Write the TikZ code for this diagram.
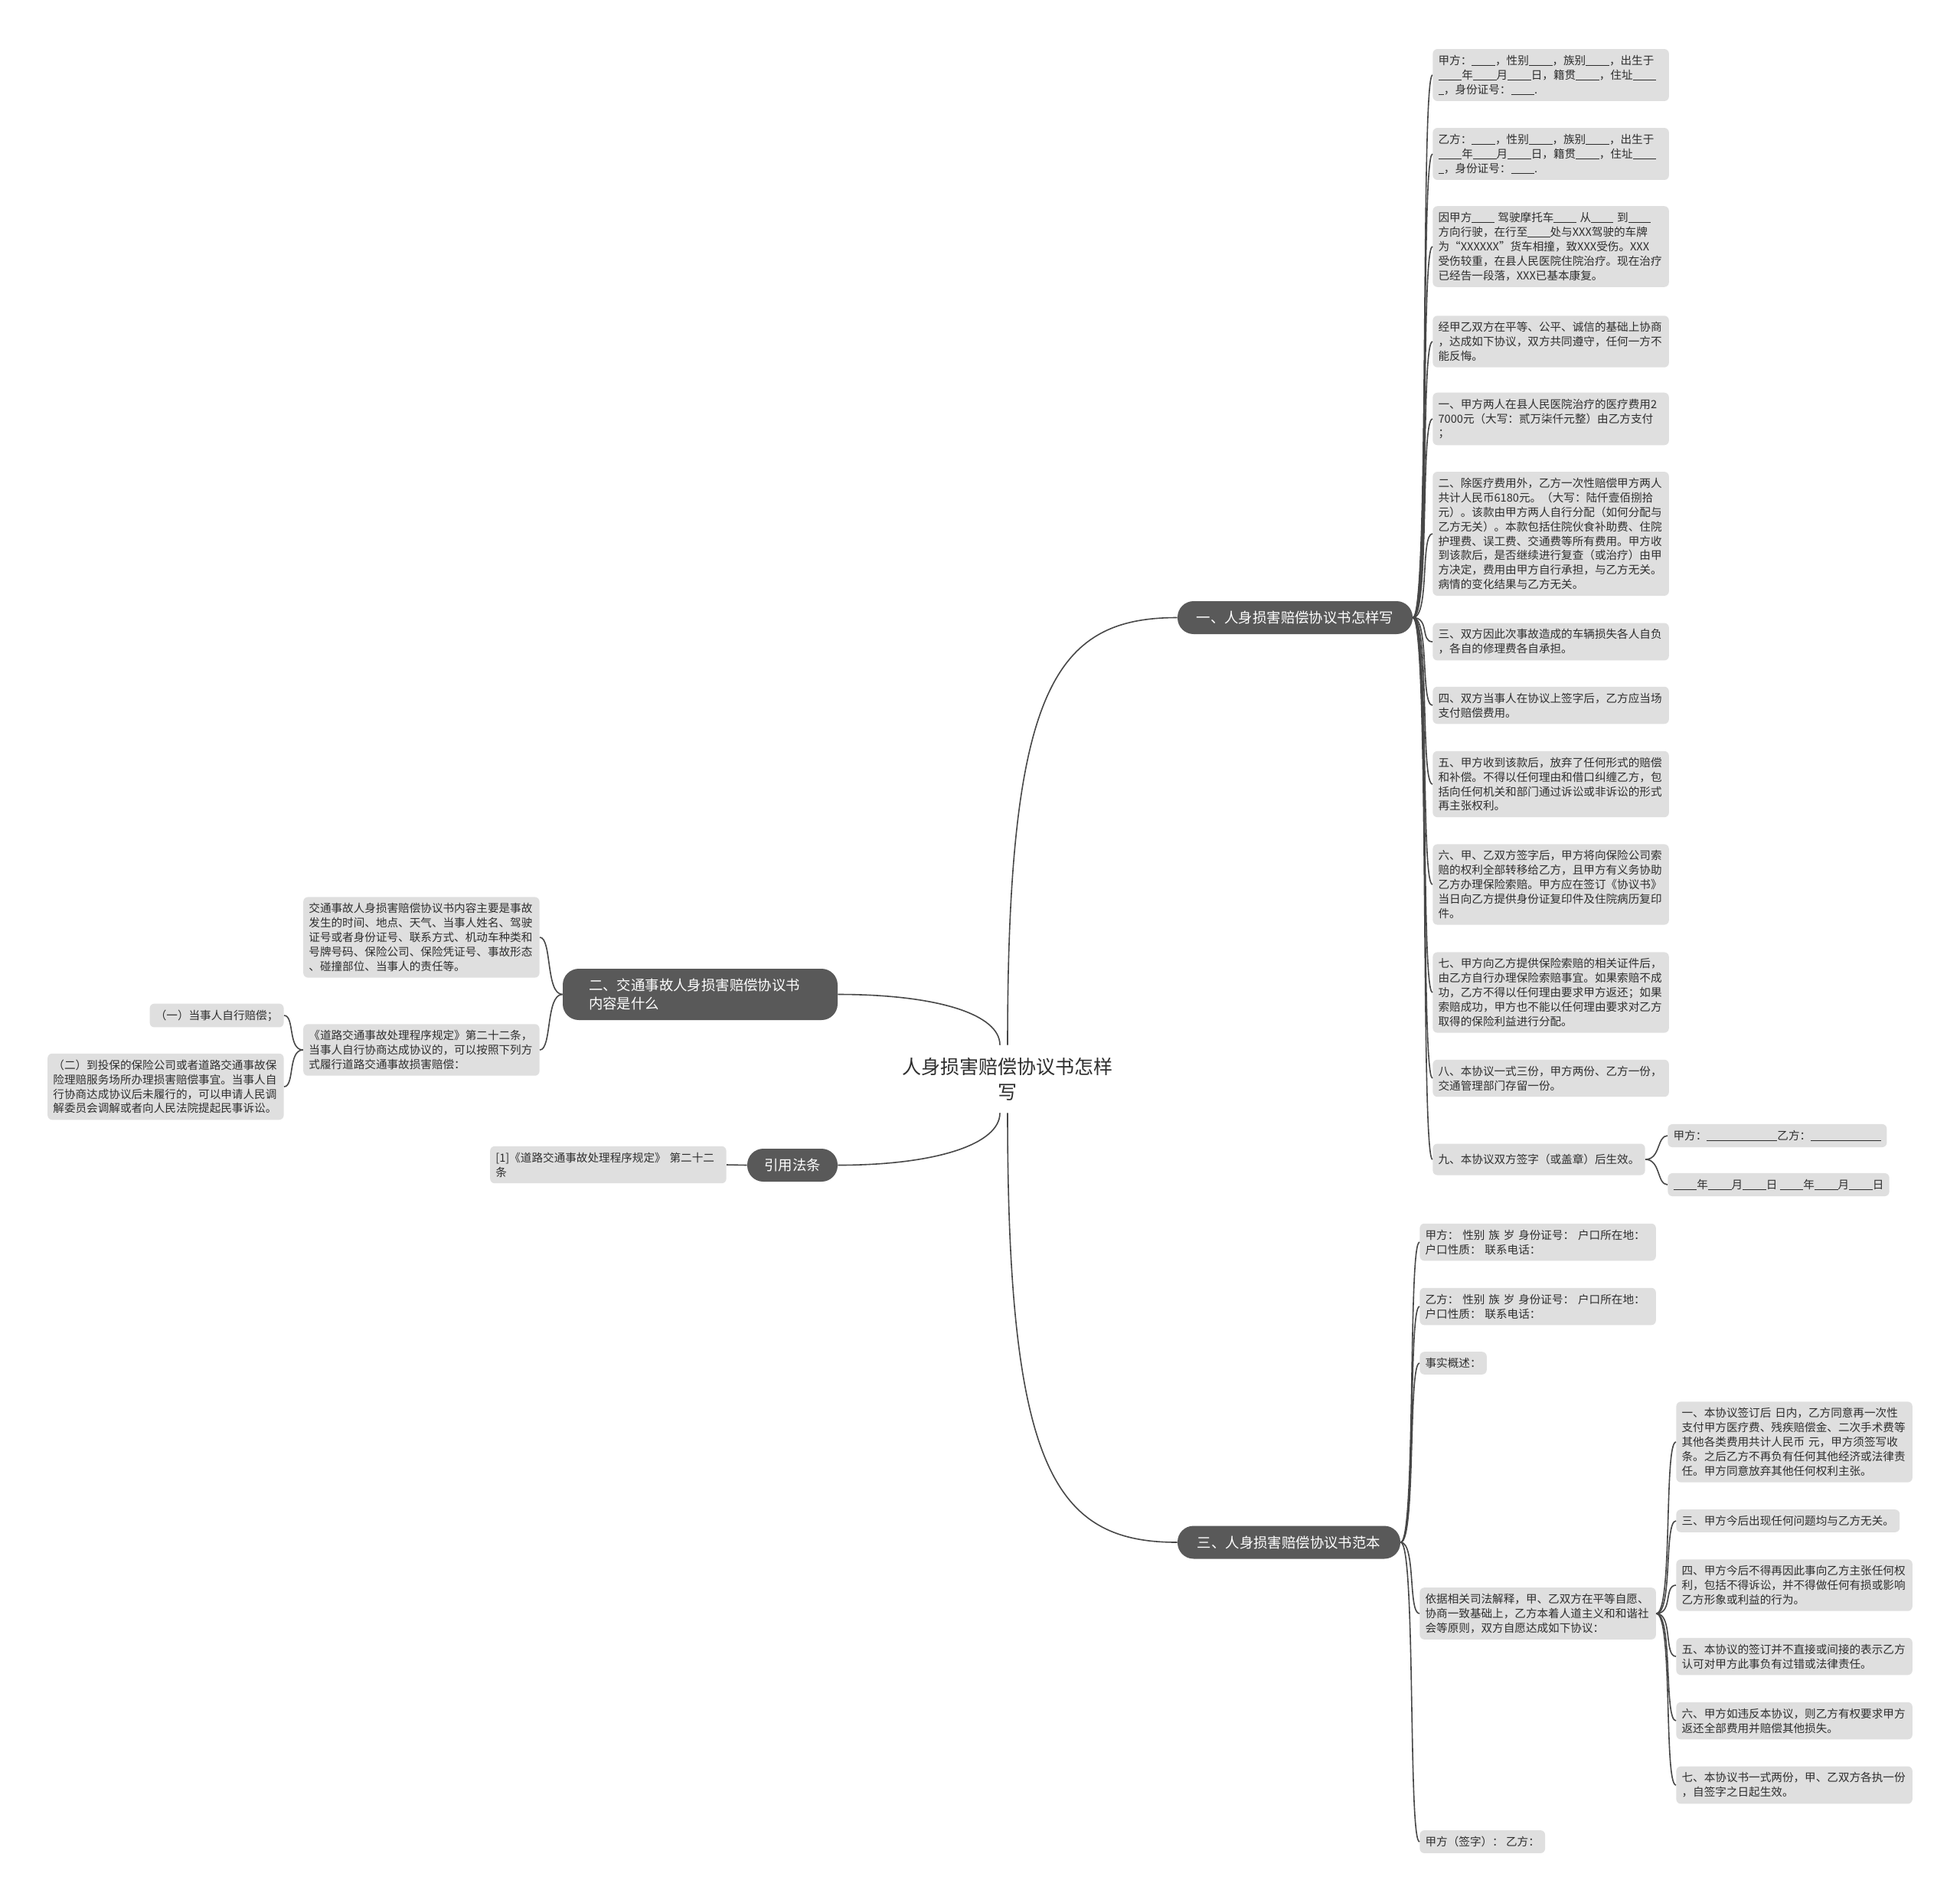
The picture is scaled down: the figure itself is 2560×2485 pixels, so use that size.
\documentclass[tikz,border=0pt]{standalone}
\usepackage{xcolor}
\usepackage{fontspec}
\setmainfont{Noto Sans CJK SC}
\usepackage{tikz}

\definecolor{leafgray}{HTML}{DFDFDF}
\definecolor{branchgray}{HTML}{595959}
\definecolor{linkgray}{HTML}{474747}
\definecolor{inkgray}{HTML}{2E2E2E}
\newcommand{\fillin}[1]{\rule[-0.12em]{#1}{0.06em}}

\begin{document}
\begin{tikzpicture}[x=0.5pt, y=-0.5pt,
  every node/.style={inner sep=0pt},
  leaf/.style={fill=leafgray, rounded corners=3pt, inner xsep=3.6pt,
    inner ysep=4pt, align=left, text=inkgray,
    font=\fontsize{7.3}{9.45}\selectfont},
  wide/.style={text width=147pt},
  branch/.style={fill=branchgray, rounded corners=10.5pt, text=white,
    font=\fontsize{9.2}{12.2}\selectfont, minimum height=21.5pt},
  link/.style={draw=linkgray, line width=0.8pt}]
  \fill[white] (0,0) rectangle (2560,2485);
  \useasboundingbox (0,0) rectangle (2560,2485);

  % Root
  \node[align=center, text=inkgray, font=\fontsize{12.5}{16.3}\selectfont,
        minimum height=44pt] (root) at (1316,1409) {人身损害赔偿协议书怎样\\写};

  % Main branches
  \node[branch, minimum width=153.5pt] (b1) at (1691.5,806.5) {一、人身损害赔偿协议书怎样写};
  \node[branch, minimum width=145.5pt] (b3) at (1683.5,2014) {三、人身损害赔偿协议书范本};
  \node[branch, text width=145.5pt, align=left, inner xsep=17pt,
        minimum height=33.5pt] (b2) at (914.5,1298.5) {二、交通事故人身损害赔偿协议书\\内容是什么};
  \node[branch, minimum width=59pt] (b4) at (1035,1521.5) {引用法条};

  % Branch one: the agreement text
  \node[leaf, wide, anchor=west] (r1) at (1871,98) {甲方：\fillin{2.1em}，性别\fillin{2.1em}，族别\fillin{2.1em}，出生于\\
    \fillin{2.1em}年\fillin{2.1em}月\fillin{2.1em}日，籍贯\fillin{2.1em}，住址\fillin{2.1em}\\
    \fillin{0.5em}，身份证号：\fillin{2.1em}.};
  \node[leaf, wide, anchor=west] (r2) at (1871,201) {乙方：\fillin{2.1em}，性别\fillin{2.1em}，族别\fillin{2.1em}，出生于\\
    \fillin{2.1em}年\fillin{2.1em}月\fillin{2.1em}日，籍贯\fillin{2.1em}，住址\fillin{2.1em}\\
    \fillin{0.5em}，身份证号：\fillin{2.1em}.};
  \node[leaf, wide, anchor=west] (r3) at (1871,322) {因甲方\fillin{2em} 驾驶摩托车\fillin{2em} 从\fillin{2em} 到\fillin{2em}\\
    方向行驶，在行至\fillin{2em}处与XXX驾驶的车牌\\
    为“XXXXXX”货车相撞，致XXX受伤。XXX\\
    受伤较重，在县人民医院住院治疗。现在治疗\\
    已经告一段落，XXX已基本康复。};
  \node[leaf, wide, anchor=west] (r4) at (1871,446) {经甲乙双方在平等、公平、诚信的基础上协商\\
    ，达成如下协议，双方共同遵守，任何一方不\\
    能反悔。};
  \node[leaf, wide, anchor=west] (r5) at (1871,547) {一、甲方两人在县人民医院治疗的医疗费用2\\
    7000元（大写：贰万柒仟元整）由乙方支付\\
    ；};
  \node[leaf, wide, anchor=west] (r6) at (1871,697) {二、除医疗费用外，乙方一次性赔偿甲方两人\\
    共计人民币6180元。（大写：陆仟壹佰捌拾\\
    元）。该款由甲方两人自行分配（如何分配与\\
    乙方无关）。本款包括住院伙食补助费、住院\\
    护理费、误工费、交通费等所有费用。甲方收\\
    到该款后，是否继续进行复查（或治疗）由甲\\
    方决定，费用由甲方自行承担，与乙方无关。\\
    病情的变化结果与乙方无关。};
  \node[leaf, wide, anchor=west] (r7) at (1871,838) {三、双方因此次事故造成的车辆损失各人自负\\
    ，各自的修理费各自承担。};
  \node[leaf, wide, anchor=west] (r8) at (1871,921) {四、双方当事人在协议上签字后，乙方应当场\\
    支付赔偿费用。};
  \node[leaf, wide, anchor=west] (r9) at (1871,1024) {五、甲方收到该款后，放弃了任何形式的赔偿\\
    和补偿。不得以任何理由和借口纠缠乙方，包\\
    括向任何机关和部门通过诉讼或非诉讼的形式\\
    再主张权利。};
  \node[leaf, wide, anchor=west] (r10) at (1871,1155) {六、甲、乙双方签字后，甲方将向保险公司索\\
    赔的权利全部转移给乙方，且甲方有义务协助\\
    乙方办理保险索赔。甲方应在签订《协议书》\\
    当日向乙方提供身份证复印件及住院病历复印\\
    件。};
  \node[leaf, wide, anchor=west] (r11) at (1871,1296) {七、甲方向乙方提供保险索赔的相关证件后，\\
    由乙方自行办理保险索赔事宜。如果索赔不成\\
    功，乙方不得以任何理由要求甲方返还；如果\\
    索赔成功，甲方也不能以任何理由要求对乙方\\
    取得的保险利益进行分配。};
  \node[leaf, wide, anchor=west] (r12) at (1871,1408) {八、本协议一式三份，甲方两份、乙方一份，\\
    交通管理部门存留一份。};
  \node[leaf, anchor=west, minimum height=20.5pt] (r13) at (1871,1514) {九、本协议双方签字（或盖章）后生效。};
  \node[leaf, anchor=west] (q1) at (2178,1483) {甲方：\fillin{6.3em}乙方：\fillin{6.3em}};
  \node[leaf, anchor=west] (q2) at (2178,1547) {\fillin{2.1em}年\fillin{2.1em}月\fillin{2.1em}日\ \fillin{2.1em}年\fillin{2.1em}月\fillin{2.1em}日};

  % Branch three: sample agreement
  \node[leaf, wide, anchor=west] (s1) at (1854,1622) {甲方：\ 性别 族 岁 身份证号：\ 户口所在地：\\
    户口性质：\ 联系电话：};
  \node[leaf, wide, anchor=west] (s2) at (1854,1706) {乙方：\ 性别 族 岁 身份证号：\ 户口所在地：\\
    户口性质：\ 联系电话：};
  \node[leaf, anchor=west] (s3) at (1854,1780) {事实概述：};
  \node[leaf, wide, anchor=west] (s4) at (1854,2107) {依据相关司法解释，甲、乙双方在平等自愿、\\
    协商一致基础上，乙方本着人道主义和和谐社\\
    会等原则，双方自愿达成如下协议：};
  \node[leaf, anchor=west] (s5) at (1854,2405) {甲方（签字）：\ 乙方：};
  \node[leaf, wide, anchor=west] (t1) at (2189,1883) {一、本协议签订后 日内，乙方同意再一次性\\
    支付甲方医疗费、残疾赔偿金、二次手术费等\\
    其他各类费用共计人民币 元，甲方须签写收\\
    条。之后乙方不再负有任何其他经济或法律责\\
    任。甲方同意放弃其他任何权利主张。};
  \node[leaf, anchor=west] (t2) at (2189,1986) {三、甲方今后出现任何问题均与乙方无关。};
  \node[leaf, wide, anchor=west] (t3) at (2189,2070) {四、甲方今后不得再因此事向乙方主张任何权\\
    利，包括不得诉讼，并不得做任何有损或影响\\
    乙方形象或利益的行为。};
  \node[leaf, wide, anchor=west] (t4) at (2189,2163) {五、本协议的签订并不直接或间接的表示乙方\\
    认可对甲方此事负有过错或法律责任。};
  \node[leaf, wide, anchor=west] (t5) at (2189,2247) {六、甲方如违反本协议，则乙方有权要求甲方\\
    返还全部费用并赔偿其他损失。};
  \node[leaf, wide, anchor=west] (t6) at (2189,2331) {七、本协议书一式两份，甲、乙双方各执一份\\
    ，自签字之日起生效。};

  % Branch two and the cited rule
  \node[leaf, wide, anchor=east] (l1) at (705,1224) {交通事故人身损害赔偿协议书内容主要是事故\\
    发生的时间、地点、天气、当事人姓名、驾驶\\
    证号或者身份证号、联系方式、机动车种类和\\
    号牌号码、保险公司、保险凭证号、事故形态\\
    、碰撞部位、当事人的责任等。};
  \node[leaf, wide, anchor=east] (l2) at (705,1371) {《道路交通事故处理程序规定》第二十二条，\\
    当事人自行协商达成协议的，可以按照下列方\\
    式履行道路交通事故损害赔偿：};
  \node[leaf, anchor=east] (m1) at (371,1326) {（一）当事人自行赔偿；};
  \node[leaf, wide, anchor=east] (m2) at (371,1419) {（二）到投保的保险公司或者道路交通事故保\\
    险理赔服务场所办理损害赔偿事宜。当事人自\\
    行协商达成协议后未履行的，可以申请人民调\\
    解委员会调解或者向人民法院提起民事诉讼。};
  \node[leaf, wide, anchor=east] (l3) at (949,1521) {[1]《道路交通事故处理程序规定》 第二十二\\
    条};

  % Links from the root
  \draw[link] (root.north) .. controls +(0,-465) and +(-160,0) .. (b1.west);
  \draw[link] (root.south) .. controls +(0,465) and +(-160,0) .. (b3.west);
  \draw[link] ([xshift=-5pt]root.north) .. controls +(0,-40) and +(130,0) .. (b2.east);
  \draw[link] ([xshift=-5pt]root.south) .. controls +(0,40) and +(130,0) .. (b4.east);

  % Links to the leaves
  \foreach \i in {1,...,13}
    \draw[link] (b1.east) .. controls +(22,0) and +(-16,0) .. (r\i.west);
  \foreach \i in {1,2}
    \draw[link] (r13.east) .. controls +(20,0) and +(-14,0) .. (q\i.west);
  \foreach \i in {1,...,5}
    \draw[link] (b3.east) .. controls +(20,0) and +(-15,0) .. (s\i.west);
  \foreach \i in {1,...,6}
    \draw[link] (s4.east) .. controls +(22,0) and +(-16,0) .. (t\i.west);
  \foreach \i in {1,2}
    \draw[link] (b2.west) .. controls +(-22,0) and +(16,0) .. (l\i.east);
  \foreach \i in {1,2}
    \draw[link] (l2.west) .. controls +(-20,0) and +(14,0) .. (m\i.east);
  \draw[link] (b4.west) -- (l3.east);
\end{tikzpicture}
\end{document}
